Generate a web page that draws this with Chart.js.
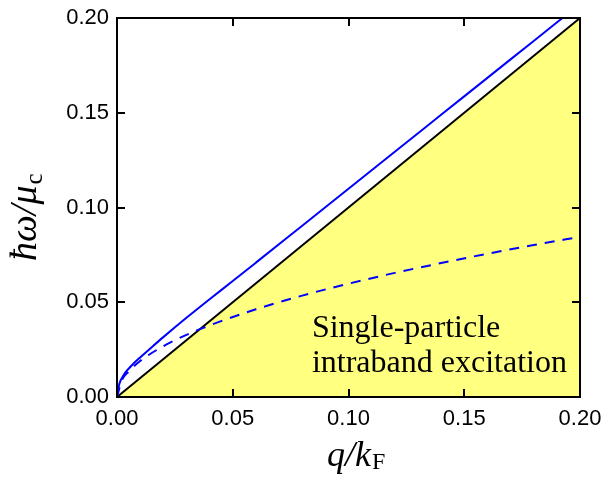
<!DOCTYPE html>
<html>
<head>
<meta charset="utf-8">
<script src="https://cdn.jsdelivr.net/npm/chart.js@4"></script>
<style>
  html, body { margin: 0; padding: 0; background: #fff; }
  #wrap { width: 604px; height: 479px; }
</style>
</head>
<body>
<div id="wrap"><canvas id="chart" width="604" height="479"></canvas></div>
<script>
// plasmon branch (solid blue)
const qSolid = [0, 0.001, 0.003, 0.006, 0.01, 0.015, 0.02, 0.03, 0.04, 0.05, 0.06, 0.08, 0.10, 0.12, 0.14, 0.16, 0.18, 0.20];
const wSolid = [0, 0.0068, 0.0118, 0.0162, 0.0209, 0.0263, 0.0316, 0.0418, 0.0516, 0.0612, 0.0709, 0.0904, 0.1099, 0.1294, 0.1489, 0.1684, 0.1879, 0.2074];
// dashed blue
const qDash = [0, 0.002, 0.005, 0.01, 0.02, 0.03, 0.04, 0.06, 0.08, 0.10, 0.12, 0.14, 0.16, 0.18, 0.20];
const wDash = [0, 0.0085, 0.0134, 0.019, 0.0268, 0.0328, 0.0378, 0.0463, 0.0535, 0.0598, 0.0655, 0.0707, 0.0756, 0.0802, 0.0845];
// edge of the single-particle region (hw = q)
const qEdge = [0, 0.20];
const wEdge = [0, 0.20];
const xTicks = [0, 0.05, 0.10, 0.15, 0.20];
const yTicks = [0, 0.05, 0.10, 0.15, 0.20];
const regionLabel = ['Single-particle', 'intraband excitation'];

const pts = (xs, ys) => xs.map((x, i) => ({x: x, y: ys[i]}));

// frame, inward ticks on all four sides, axis titles, region label
const decor = {
  id: 'decor',
  afterDatasetsDraw(chart) {
    const {ctx, scales: {x, y}} = chart;
    ctx.save();
    ctx.fillStyle = '#000';
    ctx.font = '32px "Liberation Serif"';
    ctx.textBaseline = 'alphabetic';
    ctx.fillText(regionLabel[0], x.getPixelForValue(0.0842), y.getPixelForValue(0.0317));
    ctx.fillText(regionLabel[1], x.getPixelForValue(0.0842), y.getPixelForValue(0.0132));
    ctx.restore();
  },
  afterDraw(chart) {
    const {ctx, chartArea: a, scales: {x, y}} = chart;
    ctx.save();
    ctx.strokeStyle = '#000';
    ctx.lineWidth = 2;
    ctx.strokeRect(a.left, a.top, a.right - a.left, a.bottom - a.top);
    const tl = 8;
    ctx.beginPath();
    xTicks.slice(1, -1).forEach(v => {
      const px = Math.round(x.getPixelForValue(v));
      ctx.moveTo(px, a.bottom); ctx.lineTo(px, a.bottom - tl);
      ctx.moveTo(px, a.top); ctx.lineTo(px, a.top + tl);
    });
    yTicks.slice(1, -1).forEach(v => {
      const py = Math.round(y.getPixelForValue(v));
      ctx.moveTo(a.left, py); ctx.lineTo(a.left + tl, py);
      ctx.moveTo(a.right, py); ctx.lineTo(a.right - tl, py);
    });
    ctx.stroke();

    // x title: q/k_F
    ctx.fillStyle = '#000';
    ctx.textBaseline = 'alphabetic';
    let cx = 327;
    const by = 466;
    ctx.font = 'italic 36px "Liberation Serif"';
    ctx.fillText('q/k', cx, by);
    cx += ctx.measureText('q/k').width + 1;
    ctx.font = '24px "Liberation Serif"';
    ctx.fillText('F', cx, by + 3);

    // y title: ħω/μ_c (rotated)
    ctx.translate(36, 261);
    ctx.rotate(-Math.PI / 2);
    ctx.font = 'italic 38px "Liberation Serif"';
    ctx.fillText('ħω/μ', 0, 0);
    const w = ctx.measureText('ħω/μ').width;
    ctx.font = '25px "Liberation Serif"';
    ctx.fillText('c', w + 1, 6);
    ctx.restore();
  }
};

new Chart(document.getElementById('chart'), {
  type: 'line',
  data: {
    datasets: [
      {
        label: 'solid',
        data: pts(qSolid, wSolid),
        borderColor: '#0000ff',
        borderWidth: 2,
        pointRadius: 0,
        fill: false,
        cubicInterpolationMode: 'monotone'
      },
      {
        label: 'dashed',
        data: pts(qDash, wDash),
        borderColor: '#0000ff',
        borderWidth: 2,
        borderDash: [10, 8],
        pointRadius: 0,
        fill: false,
        cubicInterpolationMode: 'monotone'
      },
      {
        label: 'edge',
        data: pts(qEdge, wEdge),
        borderColor: '#000',
        borderWidth: 2,
        pointRadius: 0,
        backgroundColor: '#ffff80',
        fill: 'origin'
      }
    ]
  },
  options: {
    responsive: false,
    animation: false,
    layout: {padding: {top: 18, right: 24, left: 0, bottom: 0}},
    plugins: {legend: {display: false}, tooltip: {enabled: false}},
    scales: {
      x: {
        type: 'linear', min: 0, max: 0.2,
        grid: {display: false, drawTicks: false},
        border: {display: false},
        afterFit: s => { s.height = 82; s.paddingLeft = 0; s.paddingRight = 0; },
        afterBuildTicks: s => { s.ticks = xTicks.map(v => ({value: v})); },
        ticks: {
          padding: 9, color: '#000', maxRotation: 0,
          font: {family: '"Liberation Sans"', size: 22},
          callback: v => v.toFixed(2)
        }
      },
      y: {
        type: 'linear', min: 0, max: 0.2,
        grid: {display: false, drawTicks: false},
        border: {display: false},
        afterFit: s => { s.width = 117; s.paddingTop = 0; s.paddingBottom = 0; },
        afterBuildTicks: s => { s.ticks = yTicks.map(v => ({value: v})); },
        ticks: {
          padding: 8, color: '#000',
          font: {family: '"Liberation Sans"', size: 22},
          callback: v => v.toFixed(2)
        }
      }
    }
  },
  plugins: [decor]
});
</script>
</body>
</html>
